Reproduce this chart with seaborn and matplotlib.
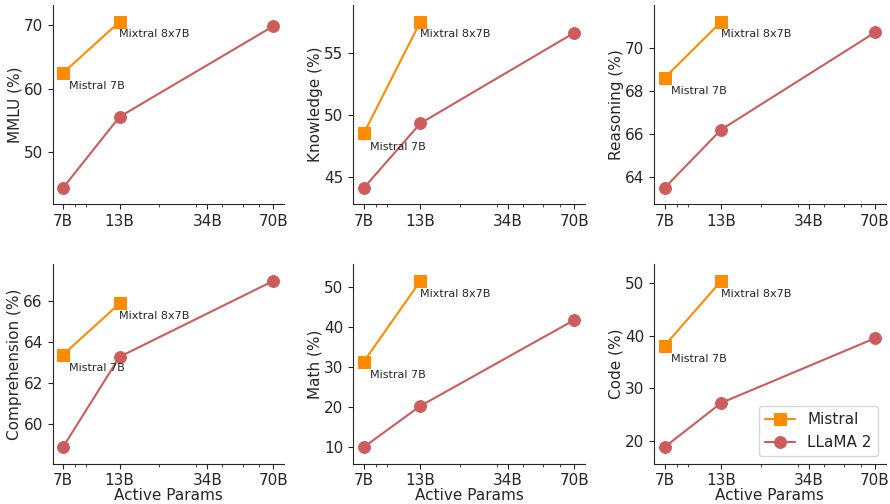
import pandas as pd
import matplotlib
matplotlib.use("Agg")
import matplotlib.pyplot as plt
import matplotlib.ticker as mticker
import seaborn as sns

# === Data ===
params_llama = [7, 13, 70]
params_mistral = [7, 13]
tick_vals = [7, 13, 34, 70]
tick_labels = ["7B", "13B", "34B", "70B"]
mistral_names = ["Mistral 7B", "Mixtral 8x7B"]

metrics = ["MMLU", "Knowledge", "Reasoning", "Comprehension", "Math", "Code"]
mistral_mmlu = [62.5, 70.6]
mistral_knowledge = [48.5, 57.5]
mistral_reasoning = [68.6, 71.2]
mistral_comprehension = [63.4, 65.9]
mistral_math = [31.3, 51.5]
mistral_code = [38.1, 50.4]

llama_mmlu = [44.4, 55.6, 69.9]
llama_knowledge = [44.1, 49.3, 56.6]
llama_reasoning = [63.5, 66.2, 70.7]
llama_comprehension = [58.9, 63.3, 67.0]
llama_math = [9.9, 20.2, 41.7]
llama_code = [18.8, 27.2, 39.5]

mistral_vals = [mistral_mmlu, mistral_knowledge, mistral_reasoning,
                mistral_comprehension, mistral_math, mistral_code]
llama_vals = [llama_mmlu, llama_knowledge, llama_reasoning,
              llama_comprehension, llama_math, llama_code]

# === Style ===
sns.set_style("ticks")
plt.rcParams["font.family"] = ["DejaVu Sans"]
plt.rcParams["font.size"] = 11

orange = "#FF8C00"
red = "#CD5C5C"

fig, axes = plt.subplots(2, 3, figsize=(8.9, 5.04), dpi=100)
fig.subplots_adjust(left=0.059, right=0.995, top=0.99, bottom=0.08,
                    wspace=0.3, hspace=0.3)

for i, (ax, metric) in enumerate(zip(axes.flat, metrics)):
    df_m = pd.DataFrame({"params": params_mistral, "score": mistral_vals[i]})
    df_l = pd.DataFrame({"params": params_llama, "score": llama_vals[i]})

    sns.lineplot(data=df_m, x="params", y="score", ax=ax, color=orange,
                 marker="s", markersize=9, markeredgecolor=orange,
                 linewidth=1.5, label="Mistral")
    sns.lineplot(data=df_l, x="params", y="score", ax=ax, color=red,
                 marker="o", markersize=8.5, markeredgecolor=red,
                 linewidth=1.5, label="LLaMA 2")

    # model name annotations
    ax.annotate(mistral_names[0], (params_mistral[0], mistral_vals[i][0]),
                textcoords="offset points", xytext=(4.5, -6), ha="left",
                va="top", fontsize=8)
    ax.annotate(mistral_names[1], (params_mistral[1], mistral_vals[i][1]),
                textcoords="offset points", xytext=(-0.5, -5.5), ha="left",
                va="top", fontsize=8)

    ax.set_xscale("log")
    ax.set_xticks(tick_vals)
    ax.set_xticklabels(tick_labels)
    ax.xaxis.set_minor_formatter(mticker.NullFormatter())
    ax.margins(x=0.05, y=0.1)
    ax.tick_params(axis="both", labelsize=11)

    ax.set_ylabel(f"{metric} (%)", fontsize=11, labelpad=1)
    if i >= 3:
        ax.set_xlabel("Active Params", fontsize=11, labelpad=0)
    else:
        ax.set_xlabel("")

    if i == 5:
        ax.legend(loc="lower right", fontsize=11)
    else:
        ax.get_legend().remove()

    sns.despine(ax=ax)

fig.savefig("out.png", dpi=100)
